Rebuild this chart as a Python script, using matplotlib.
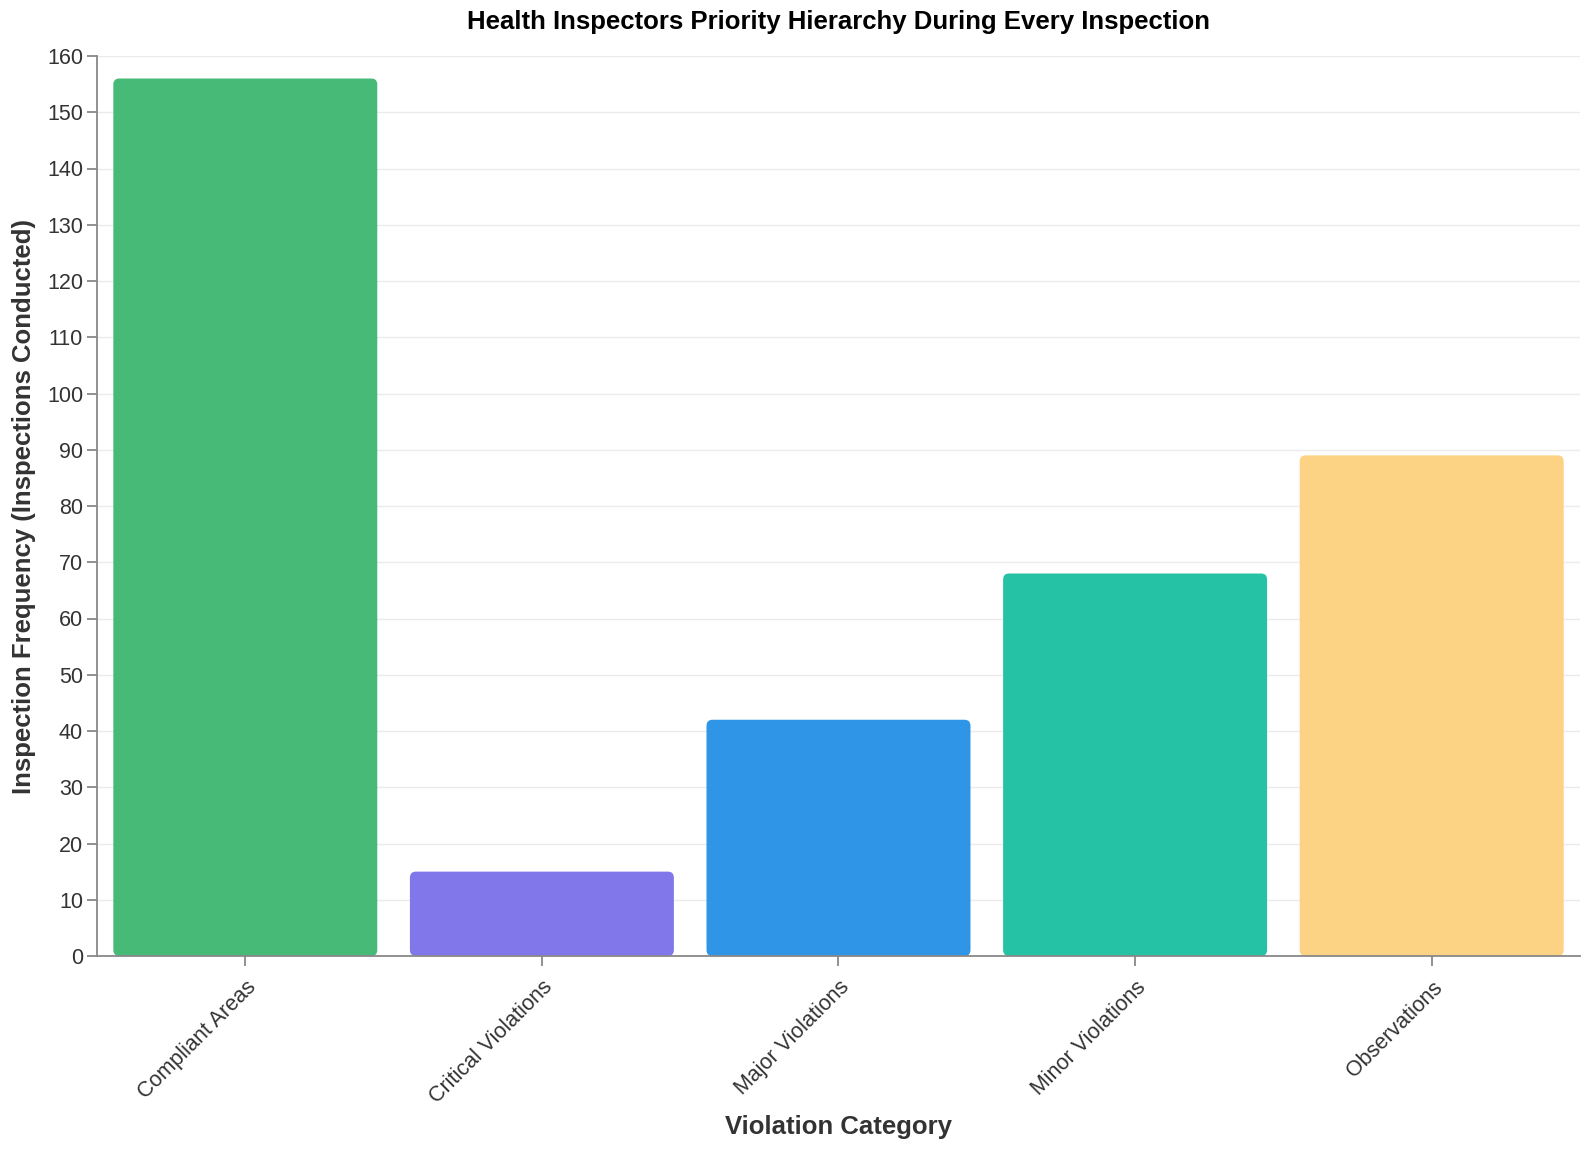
import matplotlib.pyplot as plt
from matplotlib.patches import FancyBboxPatch

plt.rcParams["font.family"] = ["Liberation Sans", "DejaVu Sans"]

CATEGORIES = ["Compliant Areas", "Critical Violations", "Major Violations",
              "Minor Violations", "Observations"]
FREQUENCY = [156, 15, 42, 68, 89]
COLORS = ["#48ba78", "#8277ea", "#2f95e6", "#26c2a5", "#fcd385"]

fig = plt.figure(figsize=(15.86, 11.5), dpi=100)
ax = fig.add_axes([97 / 1586, 1 - 956 / 1150, (1580 - 97) / 1586, (956 - 56) / 1150])

x = list(range(len(CATEGORIES)))
bars = ax.bar(x, FREQUENCY, width=0.89, color=COLORS)
ax.set_xlim(-0.5, len(CATEGORIES) - 0.5)
ax.set_ylim(0, 160)
ax.set_yticks(range(0, 161, 10))

# swap bars for rounded ones
fig.canvas.draw()
px_per_x = ax.transData.transform((1, 0))[0] - ax.transData.transform((0, 0))[0]
px_per_y = ax.transData.transform((0, 1))[1] - ax.transData.transform((0, 0))[1]
radius_x = 6 / px_per_x
aspect = px_per_x / px_per_y
for b in bars:
    rb = FancyBboxPatch((b.get_x(), b.get_y()), b.get_width(), b.get_height(),
                        boxstyle=f"round,pad=0,rounding_size={radius_x}",
                        mutation_aspect=aspect, facecolor=b.get_facecolor(),
                        edgecolor="none", zorder=2)
    ax.add_patch(rb)
    b.remove()

ax.set_xticks(x)
ax.set_xticklabels(CATEGORIES, rotation=45, ha="right", rotation_mode="anchor")
ax.tick_params(axis="both", colors="#888888", labelcolor="#333333", labelsize=15.5,
               length=7, width=1.3)
ax.tick_params(axis="x", pad=8)
ax.tick_params(axis="y", pad=3)

ax.grid(axis="y", color="#ebebeb", linewidth=1)
ax.set_axisbelow(True)
for s in ["top", "right"]:
    ax.spines[s].set_visible(False)
for s in ["left", "bottom"]:
    ax.spines[s].set_color("#888888")
    ax.spines[s].set_linewidth(1.3)

ax.set_xlabel("Violation Category", fontsize=18.5, fontweight="bold",
              color="#333333", labelpad=5)
ax.set_ylabel("Inspection Frequency (Inspections Conducted)", fontsize=18.5,
              fontweight="bold", color="#333333", labelpad=8)
ax.set_title("Health Inspectors Priority Hierarchy During Every Inspection",
             fontsize=18.5, fontweight="bold", color="#000000", pad=19.5)

fig.savefig("out.png", dpi=100, facecolor="white")
